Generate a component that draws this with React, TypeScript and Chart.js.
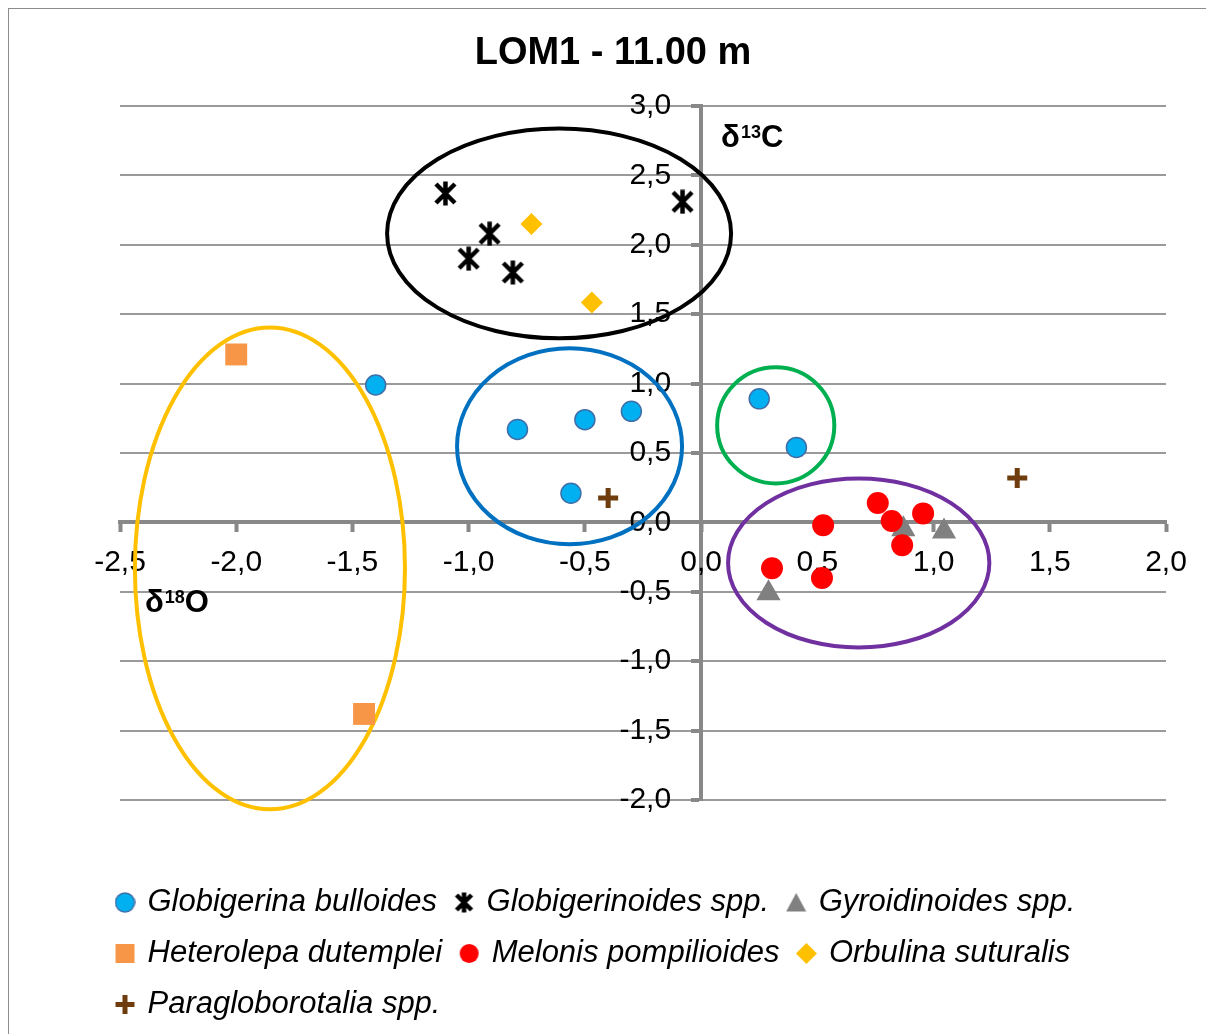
import React, { useEffect, useRef } from "react";
import { Chart, registerables } from "chart.js";

Chart.register(...registerables);

const FONT = "'Liberation Sans', Arial, Helvetica, sans-serif";

// ---- data (δ18O = x, δ13C = y) ----
const globigerinaBulloides = [
  { x: -1.40, y: 0.99 },
  { x: -0.79, y: 0.67 },
  { x: -0.50, y: 0.74 },
  { x: -0.30, y: 0.80 },
  { x: -0.56, y: 0.21 },
  { x: 0.25, y: 0.89 },
  { x: 0.41, y: 0.54 },
];
const globigerinoides = [
  { x: -1.10, y: 2.37 },
  { x: -0.91, y: 2.08 },
  { x: -1.00, y: 1.90 },
  { x: -0.81, y: 1.80 },
  { x: -0.08, y: 2.31 },
];
const gyroidinoides = [
  { x: 0.87, y: -0.05 },
  { x: 1.045, y: -0.065 },
  { x: 0.29, y: -0.51 },
];
const heterolepa = [
  { x: -2.00, y: 1.21 },
  { x: -1.45, y: -1.38 },
];
const melonis = [
  { x: 0.76, y: 0.14 },
  { x: 0.82, y: 0.01 },
  { x: 0.955, y: 0.065 },
  { x: 0.525, y: -0.02 },
  { x: 0.865, y: -0.165 },
  { x: 0.305, y: -0.33 },
  { x: 0.52, y: -0.40 },
];
const orbulina = [
  { x: -0.73, y: 2.15 },
  { x: -0.47, y: 1.585 },
];
const paragloborotalia = [
  { x: -0.40, y: 0.175 },
  { x: 1.36, y: 0.32 },
];

const seriesNames = [
  "Globigerina bulloides",
  "Globigerinoides spp.",
  "Gyroidinoides spp.",
  "Heterolepa dutemplei",
  "Melonis pompilioides",
  "Orbulina suturalis",
  "Paragloborotalia spp.",
];

// group ellipses in data units: centre x, centre y, radius x, radius y
const ellipseCx = [-0.611, -0.566, 0.321, 0.678, -1.855];
const ellipseCy = [2.082, 0.548, 0.699, -0.292, -0.331];
const ellipseRx = [0.740, 0.484, 0.252, 0.562, 0.581];
const ellipseRy = [0.756, 0.706, 0.418, 0.609, 1.736];
const ellipseColors = ["#000000", "#0070C0", "#00B050", "#7030A0", "#FFC000"];

const xMin = -2.5;
const xMax = 2.0;
const yMin = -2.0;
const yMax = 3.0;
const tickStep = 0.5;

const titleText = "LOM1 - 11.00 m";

const fmt = (v: number | string) => {
  const n = Number(v);
  return (Math.abs(n) < 1e-9 ? 0 : n).toFixed(1).replace(".", ",");
};

function newCanvas(size: number) {
  const c = document.createElement("canvas");
  c.width = size;
  c.height = size;
  return { c, g: c.getContext("2d")! };
}

function makeAsterisk(size: number, lw: number) {
  const { c, g } = newCanvas(size);
  g.strokeStyle = "#000";
  g.lineWidth = lw;
  g.lineCap = "butt";
  g.beginPath();
  g.moveTo(size / 2, 0.5);
  g.lineTo(size / 2, size - 0.5);
  g.moveTo(3, 3);
  g.lineTo(size - 3, size - 3);
  g.moveTo(size - 3, 3);
  g.lineTo(3, size - 3);
  g.stroke();
  return c;
}

// legend marker images (same look as the plotted markers, legend size)
function makeLegendMarker(kind: string, size: number) {
  const { c, g } = newCanvas(size);
  const m = size / 2;
  if (kind === "blueCircle" || kind === "redCircle") {
    g.beginPath();
    g.arc(m, m, m - 1, 0, Math.PI * 2);
    g.fillStyle = kind === "blueCircle" ? "#00B0F0" : "#FF0000";
    g.fill();
    if (kind === "blueCircle") {
      g.lineWidth = 1.5;
      g.strokeStyle = "#3F6FA8";
      g.stroke();
    }
  } else if (kind === "triangle") {
    g.beginPath();
    g.moveTo(m, 1);
    g.lineTo(size - 0.5, size - 1.5);
    g.lineTo(0.5, size - 1.5);
    g.closePath();
    g.fillStyle = "#808080";
    g.fill();
  } else if (kind === "square") {
    g.fillStyle = "#F79646";
    g.fillRect(1, 1, size - 2, size - 2);
  } else if (kind === "diamond") {
    g.beginPath();
    g.moveTo(m, 0);
    g.lineTo(size, m);
    g.lineTo(m, size);
    g.lineTo(0, m);
    g.closePath();
    g.fillStyle = "#FFC000";
    g.fill();
  } else if (kind === "plus") {
    g.strokeStyle = "#6F3C0E";
    g.lineWidth = 5;
    g.beginPath();
    g.moveTo(m, 1);
    g.lineTo(m, size - 1);
    g.moveTo(1, m);
    g.lineTo(size - 1, m);
    g.stroke();
  } else if (kind === "asterisk") {
    return makeAsterisk(size, 4.5);
  }
  return c;
}

const legendMarkerKinds = ["blueCircle", "asterisk", "triangle", "square", "redCircle", "diamond", "plus"];

const ellipsePlugin = {
  id: "groupEllipses",
  afterLayout(chart: any) {
    // Excel centres the title on the whole chart box
    const t = chart.titleBlock;
    if (t) {
      t.left = 0;
      t.right = 1210;
      t.width = 1210;
    }
  },
  beforeDatasetsDraw(chart: any) {
    const { ctx, scales } = chart;
    const xs = scales.x;
    const ys = scales.y;
    ctx.save();
    ctx.lineWidth = 4;
    for (let i = 0; i < ellipseCx.length; i++) {
      const px = xs.getPixelForValue(ellipseCx[i]);
      const py = ys.getPixelForValue(ellipseCy[i]);
      const rx = Math.abs(xs.getPixelForValue(ellipseCx[i] + ellipseRx[i]) - px);
      const ry = Math.abs(ys.getPixelForValue(ellipseCy[i] + ellipseRy[i]) - py);
      ctx.strokeStyle = ellipseColors[i];
      ctx.beginPath();
      ctx.ellipse(px, py, rx, ry, 0, 0, Math.PI * 2);
      ctx.stroke();
    }
    ctx.restore();
  },
  afterDraw(chart: any) {
    const { ctx, scales, chartArea } = chart;
    const xs = scales.x;
    const ys = scales.y;
    const drawDelta = (x0: number, base: number, sup: string, main: string) => {
      ctx.save();
      ctx.fillStyle = "#000";
      ctx.textBaseline = "alphabetic";
      ctx.textAlign = "left";
      ctx.font = `bold 31px ${FONT}`;
      ctx.fillText("δ", x0, base);
      let x = x0 + ctx.measureText("δ").width + 1;
      ctx.font = `bold 18px ${FONT}`;
      ctx.fillText(sup, x, base - 9);
      x += ctx.measureText(sup).width;
      ctx.font = `bold 31px ${FONT}`;
      ctx.fillText(main, x, base);
      ctx.restore();
    };
    drawDelta(xs.getPixelForValue(0) + 20, chartArea.top + 41, "13", "C");
    drawDelta(chartArea.left + 25, ys.getPixelForValue(0) + 90, "18", "O");
  },
};

export default function App() {
  const ref = useRef<HTMLCanvasElement | null>(null);

  useEffect(() => {
    document.documentElement.style.overflow = "hidden";
    const canvas = ref.current;
    if (!canvas) return;
    const asterisk = makeAsterisk(25, 4.5);
    const legendImages = legendMarkerKinds.map((k) => makeLegendMarker(k, 21));

    const datasets: any[] = [
      {
        label: seriesNames[0],
        data: globigerinaBulloides,
        pointStyle: "circle",
        pointRadius: 10,
        backgroundColor: "#00B0F0",
        borderColor: "#3F6FA8",
        borderWidth: 1.5,
      },
      {
        label: seriesNames[1],
        data: globigerinoides,
        pointStyle: asterisk,
        pointRadius: 12,
        backgroundColor: "#000",
        borderColor: "#000",
        borderWidth: 0,
      },
      {
        label: seriesNames[2],
        data: gyroidinoides,
        pointStyle: "triangle",
        pointRadius: 14,
        backgroundColor: "#808080",
        borderColor: "#808080",
        borderWidth: 0,
      },
      {
        label: seriesNames[3],
        data: heterolepa,
        pointStyle: "rect",
        pointRadius: 15.5,
        backgroundColor: "#F79646",
        borderColor: "#F79646",
        borderWidth: 0,
      },
      {
        label: seriesNames[4],
        data: melonis,
        pointStyle: "circle",
        pointRadius: 11,
        backgroundColor: "#FF0000",
        borderColor: "#FF0000",
        borderWidth: 0,
      },
      {
        label: seriesNames[5],
        data: orbulina,
        pointStyle: "rectRot",
        pointRadius: 11,
        backgroundColor: "#FFC000",
        borderColor: "#FFC000",
        borderWidth: 0,
      },
      {
        label: seriesNames[6],
        data: paragloborotalia,
        pointStyle: "cross",
        pointRadius: 10,
        backgroundColor: "#6F3C0E",
        borderColor: "#6F3C0E",
        borderWidth: 5,
      },
    ].map((d, i) => ({ ...d, order: -i, pointHoverRadius: d.pointRadius }));

    const defaultGen = (Chart.defaults.plugins.legend.labels as any).generateLabels;

    const chart = new Chart(canvas, {
      type: "scatter",
      data: { datasets },
      options: {
        animation: false,
        responsive: false,
        events: [],
        layout: { padding: { left: 90, right: 48, top: 0, bottom: 4 } },
        plugins: {
          tooltip: { enabled: false },
          title: {
            display: true,
            text: titleText,
            color: "#000",
            font: { family: FONT, size: 38, weight: "bold" },
            padding: { top: 23, bottom: 29.4 },
          },
          legend: {
            display: true,
            position: "bottom",
            align: "start",
            labels: {
              usePointStyle: true,
              boxWidth: 14,
              boxHeight: 14,
              padding: 20,
              color: "#000",
              font: { family: FONT, size: 31, style: "italic" },
              sort: (a: any, b: any) => a.datasetIndex - b.datasetIndex,
              generateLabels: (ch: any) =>
                defaultGen(ch).map((it: any) => ({
                  ...it,
                  pointStyle: legendImages[it.datasetIndex],
                })),
            },
          },
        },
        scales: {
          x: {
            type: "linear",
            position: { y: 0 },
            min: xMin,
            max: xMax,
            ticks: {
              stepSize: tickStep,
              autoSkip: false,
              maxRotation: 0,
              padding: 14,
              color: "#000",
              font: { family: FONT, size: 30 },
              callback: fmt,
              z: 0,
            },
            grid: {
              display: true,
              drawOnChartArea: false,
              drawTicks: true,
              tickLength: 8,
              tickColor: "#888888",
              tickWidth: 4,
              z: -2,
            },
            border: { display: true, color: "#888888", width: 4, z: -1 },
            afterFit: (s: any) => {
              s.height = 0;
            },
          },
          y: {
            type: "linear",
            position: { x: 0 },
            min: yMin,
            max: yMax,
            ticks: {
              stepSize: tickStep,
              autoSkip: false,
              padding: 10,
              color: "#000",
              font: { family: FONT, size: 30 },
              callback: (v: any) => fmt(v) + "\u2003",
              z: 0,
            },
            grid: {
              display: true,
              drawOnChartArea: true,
              color: (c: any) => (c.tick && Math.abs(c.tick.value) < 1e-9 ? "rgba(0,0,0,0)" : "#9a9a9a"),
              lineWidth: 2,
              drawTicks: true,
              tickLength: 8,
              tickColor: "#888888",
              tickWidth: 4,
              z: -2,
            },
            border: { display: true, color: "#888888", width: 4, z: -1 },
            afterFit: (s: any) => {
              s.width = 0;
            },
          },
          padL: {
            type: "linear",
            axis: "y",
            position: "left",
            display: true,
            ticks: { display: false },
            grid: { display: false },
            border: { display: false },
            afterFit: (s: any) => {
              s.width = 22;
            },
          },
          padB: {
            type: "linear",
            axis: "x",
            position: "bottom",
            display: true,
            ticks: { display: false },
            grid: { display: false },
            border: { display: false },
            afterFit: (s: any) => {
              s.height = 67;
            },
          },
        } as any,
      },
      plugins: [ellipsePlugin],
    } as any);

    return () => {
      chart.destroy();
    };
  }, []);

  return (
    <div style={{ position: "relative", width: 1206, height: 1026 }}>
      <div
        style={{
          position: "absolute",
          left: -1,
          top: -1,
          right: 0,
          bottom: 0,
          borderTop: "2px solid #8c8c8c",
          borderLeft: "2px solid #8c8c8c",
          pointerEvents: "none",
        }}
      />
      <canvas
        ref={ref}
        width={1206}
        height={1026}
        style={{ position: "absolute", left: 0, top: 0, width: 1206, height: 1026 }}
      />
    </div>
  );
}
